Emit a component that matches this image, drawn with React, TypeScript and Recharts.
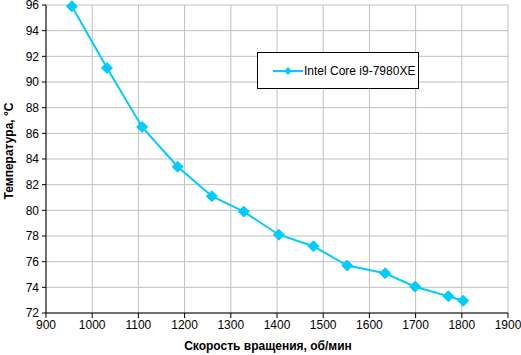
import React from "react";
import { LineChart, Line, XAxis, YAxis, CartesianGrid } from "recharts";

const rpm = [956, 1032, 1108, 1185, 1259, 1328, 1404, 1479, 1552, 1634, 1699, 1771, 1803];
const temps = [95.9, 91.1, 86.5, 83.4, 81.1, 79.9, 78.1, 77.2, 75.7, 75.1, 74.05, 73.3, 72.95];
const xTicks = [900, 1000, 1100, 1200, 1300, 1400, 1500, 1600, 1700, 1800, 1900];
const yTicks = [72, 74, 76, 78, 80, 82, 84, 86, 88, 90, 92, 94, 96];
const seriesName = "Intel Core i9-7980XE";
const xTitle = "Скорость вращения, об/мин";
const yTitle = "Температура, °C";

const data = rpm.map((r, i) => ({ rpm: r, t: temps[i] }));

const COLOR = "#00CCFF";
const FONT = "'Liberation Sans', Arial, sans-serif";

const Diamond = (props: any) => {
  const { cx, cy } = props;
  if (cx == null || cy == null) return null;
  const s = 5.5;
  return (
    <path
      d={`M${cx},${cy - s} L${cx + s},${cy} L${cx},${cy + s} L${cx - s},${cy} Z`}
      fill={COLOR}
      stroke={COLOR}
    />
  );
};

const XTitle = (props: any) => {
  const vb = props.viewBox || {};
  const x = vb.x + vb.width / 2 - 9;
  return (
    <text x={x} y={350} textAnchor="middle" fontFamily={FONT} fontSize={12} fontWeight="bold" fill="#000">
      {xTitle}
    </text>
  );
};

const YTitle = (props: any) => {
  const vb = props.viewBox || {};
  const cy = vb.y + vb.height / 2 - 8;
  const cx = 13;
  return (
    <text
      x={cx}
      y={cy}
      transform={`rotate(-90, ${cx}, ${cy})`}
      textAnchor="middle"
      fontFamily={FONT}
      fontSize={12}
      fontWeight="bold"
      fill="#000"
    >
      {yTitle}
    </text>
  );
};

const LegendBox = () => (
  <div
    style={{
      position: "absolute",
      left: 257,
      top: 52,
      width: 162,
      height: 37,
      border: "1px solid #000",
      background: "#fff",
      boxSizing: "border-box",
      display: "flex",
      alignItems: "center",
      fontFamily: FONT,
      fontSize: 12,
      color: "#000",
    }}
  >
    <svg width={46} height={12} style={{ marginLeft: 15 }}>
      <line x1={0} y1={6} x2={30} y2={6} stroke={COLOR} strokeWidth={2} />
      <path d="M15,2 L19,6 L15,10 L11,6 Z" fill={COLOR} />
    </svg>
    <span style={{ marginLeft: -15 }}>{seriesName}</span>
  </div>
);

export default function App() {
  return (
    <div style={{ position: "absolute", left: 0, top: 0, width: 521, height: 355, background: "#fff" }}>
      <LineChart
        width={521}
        height={355}
        data={data}
        margin={{ top: 5, right: 13, bottom: 0, left: 0 }}
      >
        <CartesianGrid stroke="#c0c0c0" strokeWidth={1} />
        <XAxis
          dataKey="rpm"
          type="number"
          domain={[900, 1900]}
          ticks={xTicks}
          interval={0}
          height={42}
          tick={{ fill: "#000", fontSize: 12, fontFamily: FONT }}
          stroke="#000"
          tickSize={5}
          tickMargin={2}
          label={<XTitle />}
        />
        <YAxis
          type="number"
          domain={[72, 96]}
          ticks={yTicks}
          interval={0}
          width={46}
          tick={{ fill: "#000", fontSize: 12, fontFamily: FONT }}
          stroke="#000"
          tickSize={4}
          tickMargin={3}
          label={<YTitle />}
        />
        <Line
          type="linear"
          dataKey="t"
          stroke={COLOR}
          strokeWidth={2}
          dot={<Diamond />}
          activeDot={false}
          isAnimationActive={false}
          name={seriesName}
        />
      </LineChart>
      <LegendBox />
    </div>
  );
}
